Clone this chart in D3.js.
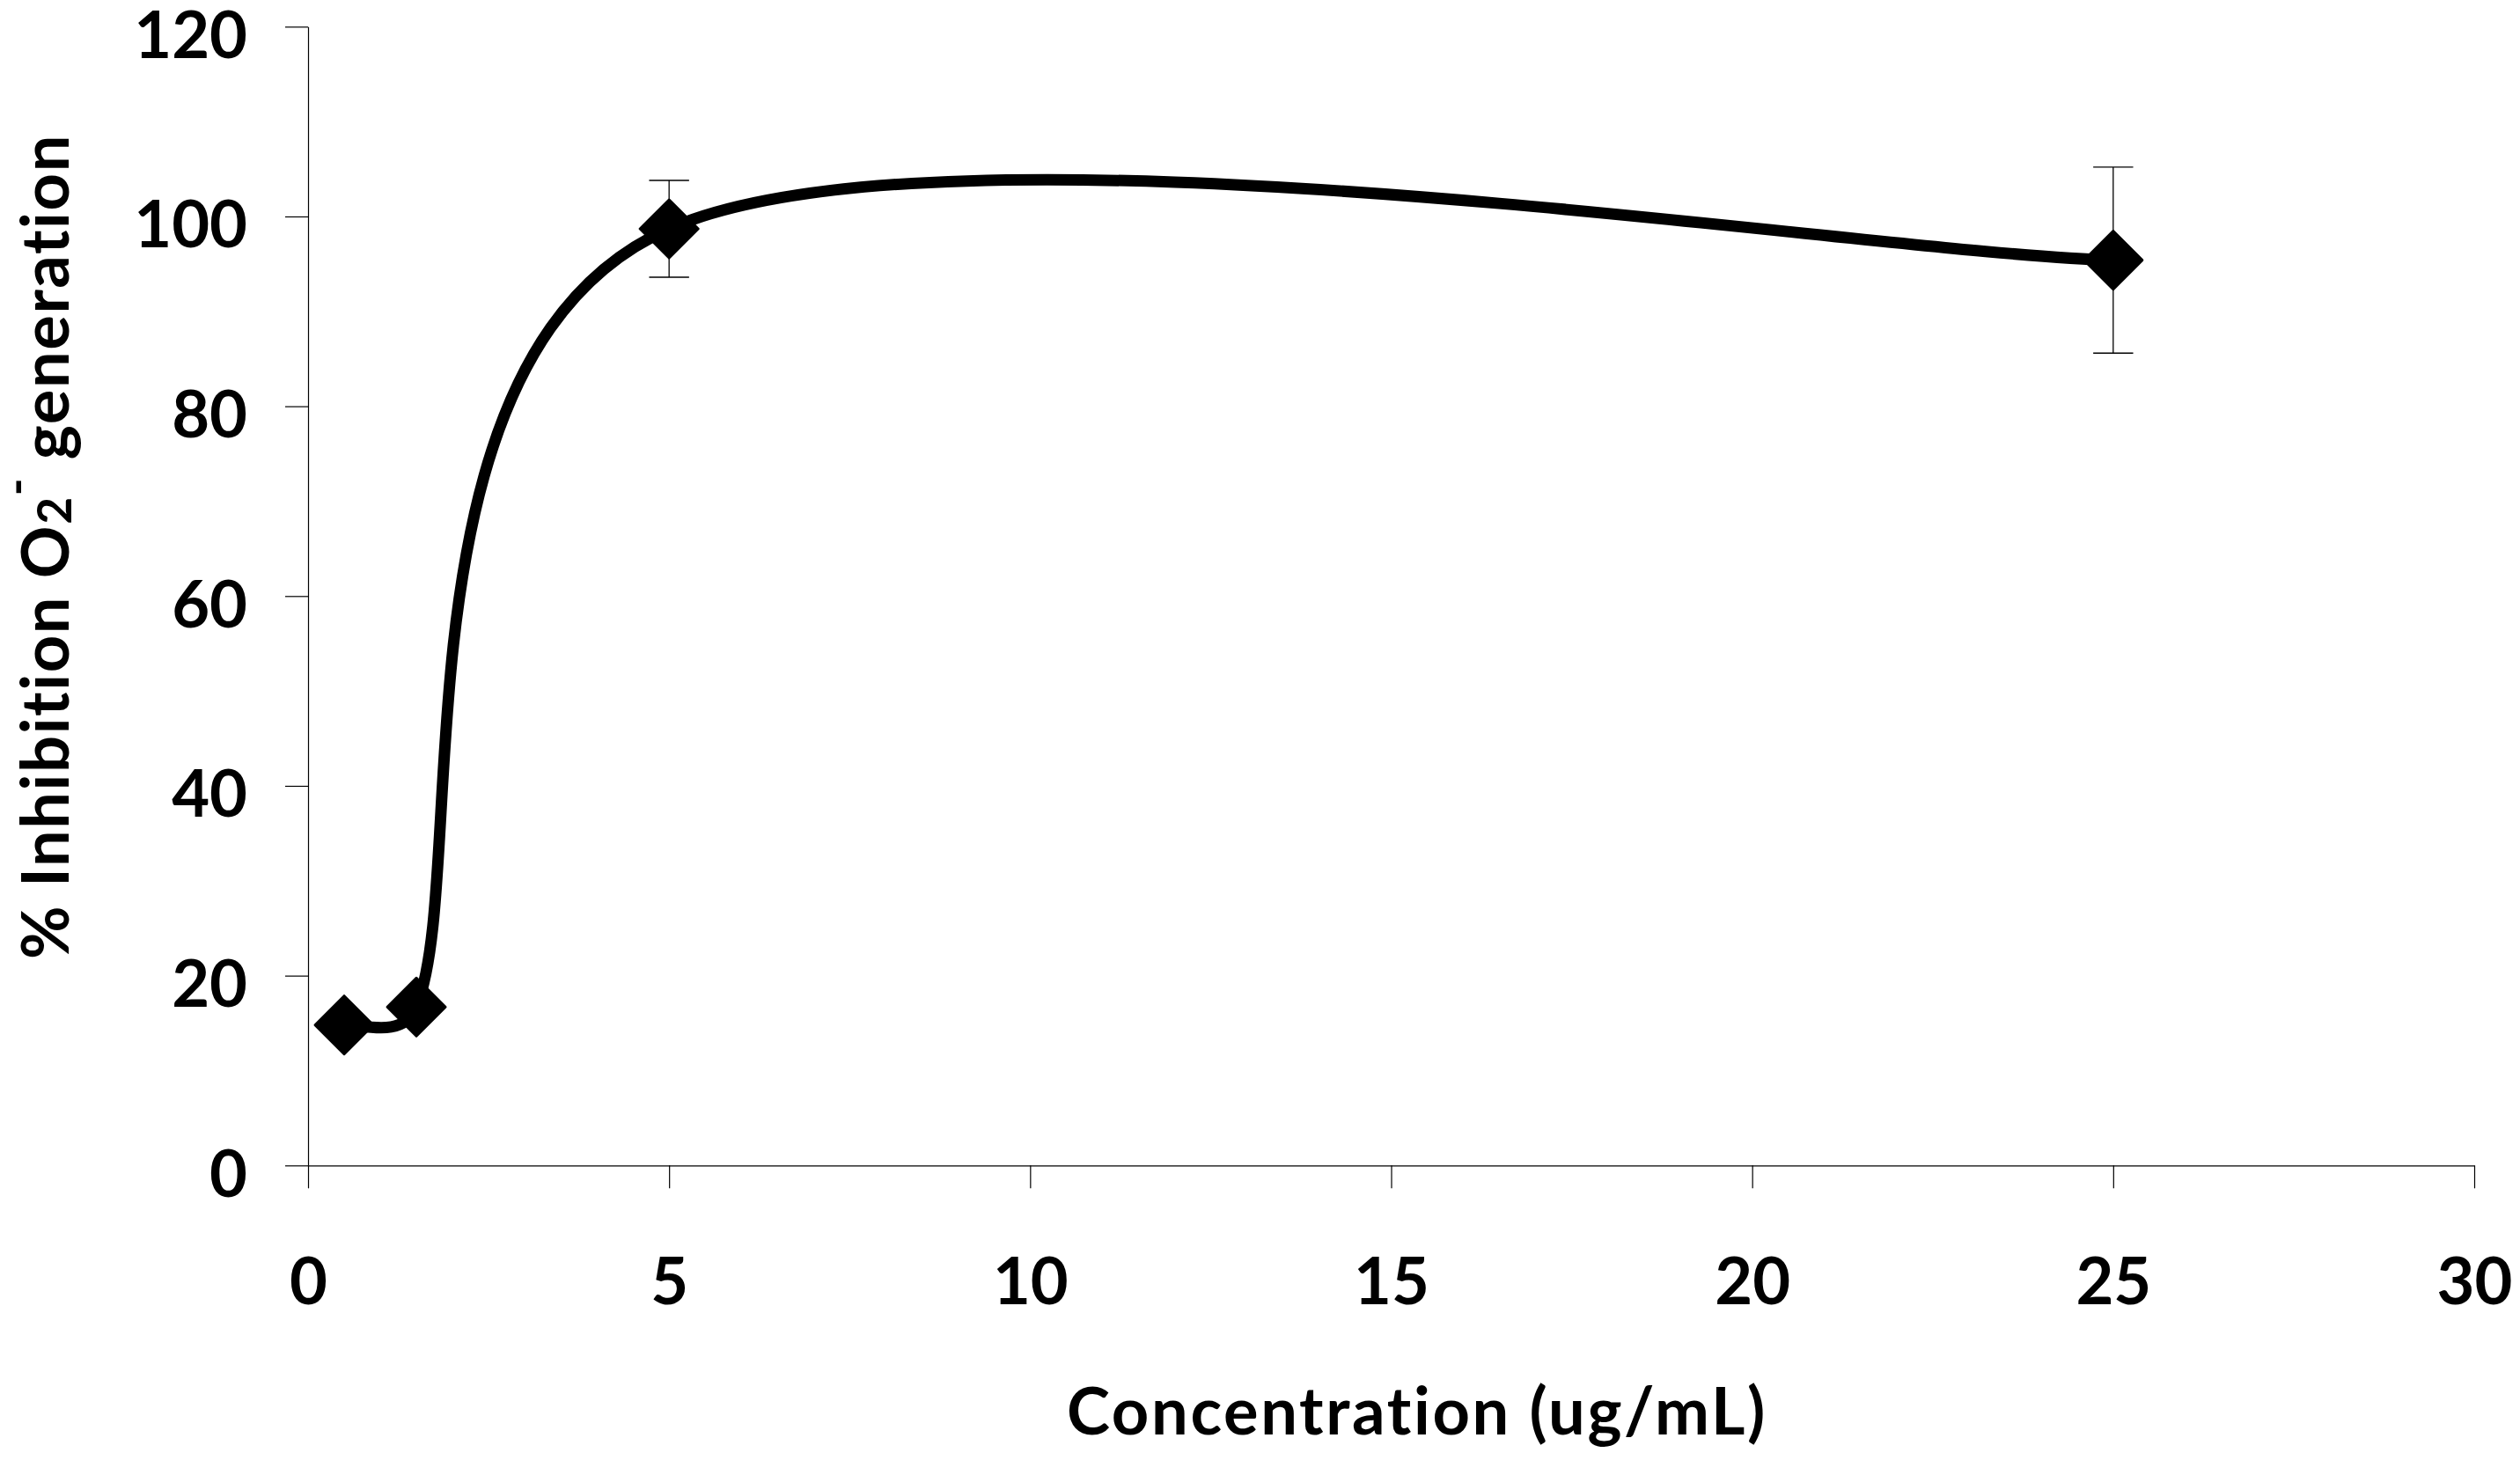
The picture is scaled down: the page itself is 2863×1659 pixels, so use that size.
<!DOCTYPE html>
<html>
<head>
<meta charset="utf-8">
<script src="https://cdn.jsdelivr.net/npm/d3@7"></script>
<style>
  html, body { margin: 0; padding: 0; background: #ffffff; }
  svg { display: block; }
  text { font-family: Lato, "Open Sans", "DejaVu Sans", sans-serif; font-weight: 700; fill: #000;
         font-variant-ligatures: none; font-feature-settings: "liga" 0, "clig" 0; }
</style>
</head>
<body>
<svg id="chart" width="2863" height="1659"></svg>
<script>
// ---- data ----
const concentration = [0.5, 1.5, 5, 25];          // ug/mL
const inhibition    = [14.8, 16.7, 98.7, 95.4];   // % inhibition O2- generation
const errorSD       = [0.5, 0.5, 5.1, 9.8];       // error bars (+/-)
const xTicks = [0, 5, 10, 15, 20, 25, 30];
const yTicks = [0, 20, 40, 60, 80, 100, 120];
const xTitle = "Concentration (ug/mL)";

// ---- layout ----
const plot = { left: 350, right: 2811, top: 30.3, bottom: 1324.3 };
const svg = d3.select("#chart");

const x = d3.scaleLinear().domain([0, 30]).range([plot.left, plot.right]);
const y = d3.scaleLinear().domain([0, 120]).range([plot.bottom, plot.top]);

const FONT = 74;

// y axis
const gy = svg.append("g")
  .attr("transform", `translate(${plot.left},0)`)
  .call(d3.axisLeft(y).tickValues(yTicks).tickSize(26).tickSizeOuter(0).tickPadding(43).tickFormat(d3.format("d")));
gy.selectAll("path, line").attr("stroke", "#000").attr("stroke-width", 1.2);
gy.selectAll("text").attr("font-size", FONT).attr("dy", "0.47em").attr("fill", "#000");

// x axis
const gx = svg.append("g")
  .attr("transform", `translate(0,${plot.bottom})`)
  .call(d3.axisBottom(x).tickValues(xTicks).tickSize(26).tickSizeOuter(0).tickFormat(d3.format("d")));
gx.selectAll("path, line").attr("stroke", "#000").attr("stroke-width", 1.2);
gx.selectAll("text").attr("font-size", FONT).attr("y", 158).attr("dy", "0").attr("fill", "#000");
svg.selectAll(".domain").attr("stroke", "#000");

// fit a text's width to a target by letter-spacing
function fitWidth(sel, target, nChars) {
  const w = sel.node().getComputedTextLength();
  const ls = (target - w) / nChars;
  if (Math.abs(ls) < 8) sel.attr("letter-spacing", ls);
}

// axis titles
const xt = svg.append("text")
  .attr("x", 1610).attr("y", 1630)
  .attr("text-anchor", "middle")
  .attr("font-size", FONT)
  .text(xTitle);
fitWidth(xt, 796, xTitle.length);

const yt = svg.append("text")
  .attr("transform", "translate(78,621) rotate(-90)")
  .attr("text-anchor", "middle")
  .attr("font-size", FONT);
yt.append("tspan").text("% Inhibition O");
yt.append("tspan").attr("font-size", FONT * 0.72).attr("dy", 3).text("2");
yt.append("tspan").attr("font-size", FONT * 0.72).attr("dy", -44).text("-");
yt.append("tspan").attr("dy", 41).text(" generation");
fitWidth(yt, 938, 27);

// ---- Excel-like smoothed curve ----
function excelCurve(context) {
  let pts;
  const dist = (a, b) => Math.hypot(b[0] - a[0], b[1] - a[1]);
  return {
    areaStart() {}, areaEnd() {},
    lineStart() { pts = []; },
    point(px, py) { pts.push([+px, +py]); },
    lineEnd() {
      const n = pts.length;
      if (!n) return;
      context.moveTo(pts[0][0], pts[0][1]);
      for (let i = 0; i < n - 1; i++) {
        const p0 = pts[Math.max(i - 1, 0)], p1 = pts[i], p2 = pts[i + 1], p3 = pts[Math.min(i + 2, n - 1)];
        const d12 = dist(p1, p2), d02 = dist(p0, p2), d13 = dist(p1, p3);
        let f1 = 1 / 6, f2 = 1 / 6;
        if (d02 * f1 > d12 / 2) f1 = d12 / (2 * d02);
        if (d13 * f2 > d12 / 2) f2 = d12 / (2 * d13);
        context.bezierCurveTo(
          p1[0] + f1 * (p2[0] - p0[0]), p1[1] + f1 * (p2[1] - p0[1]),
          p2[0] - f2 * (p3[0] - p1[0]), p2[1] - f2 * (p3[1] - p1[1]),
          p2[0], p2[1]);
      }
    }
  };
}

const data = concentration.map((c, i) => ({ c, v: inhibition[i], e: errorSD[i] }));

const line = d3.line().x(d => x(d.c)).y(d => y(d.v)).curve(excelCurve);
svg.append("path")
  .datum(data)
  .attr("d", line)
  .attr("fill", "none")
  .attr("stroke", "#000")
  .attr("stroke-width", 13)
  .attr("stroke-linejoin", "round");

// error bars
const capHalf = 22.7;
const eb = svg.append("g").attr("stroke", "#000").attr("stroke-width", 1.3);
data.forEach(d => {
  const cx = x(d.c);
  eb.append("line").attr("x1", cx).attr("x2", cx).attr("y1", y(d.v + d.e)).attr("y2", y(d.v - d.e));
  eb.append("line").attr("x1", cx - capHalf).attr("x2", cx + capHalf).attr("y1", y(d.v + d.e)).attr("y2", y(d.v + d.e));
  eb.append("line").attr("x1", cx - capHalf).attr("x2", cx + capHalf).attr("y1", y(d.v - d.e)).attr("y2", y(d.v - d.e));
});

// diamond markers
const r = 33;
svg.append("g").selectAll("path")
  .data(data)
  .join("path")
  .attr("transform", d => `translate(${x(d.c)},${y(d.v)})`)
  .attr("d", `M0,${-r}L${r},0L0,${r}L${-r},0Z`)
  .attr("fill", "#000")
  .attr("stroke", "#000")
  .attr("stroke-width", 3)
  .attr("stroke-linejoin", "round");
</script>
</body>
</html>
